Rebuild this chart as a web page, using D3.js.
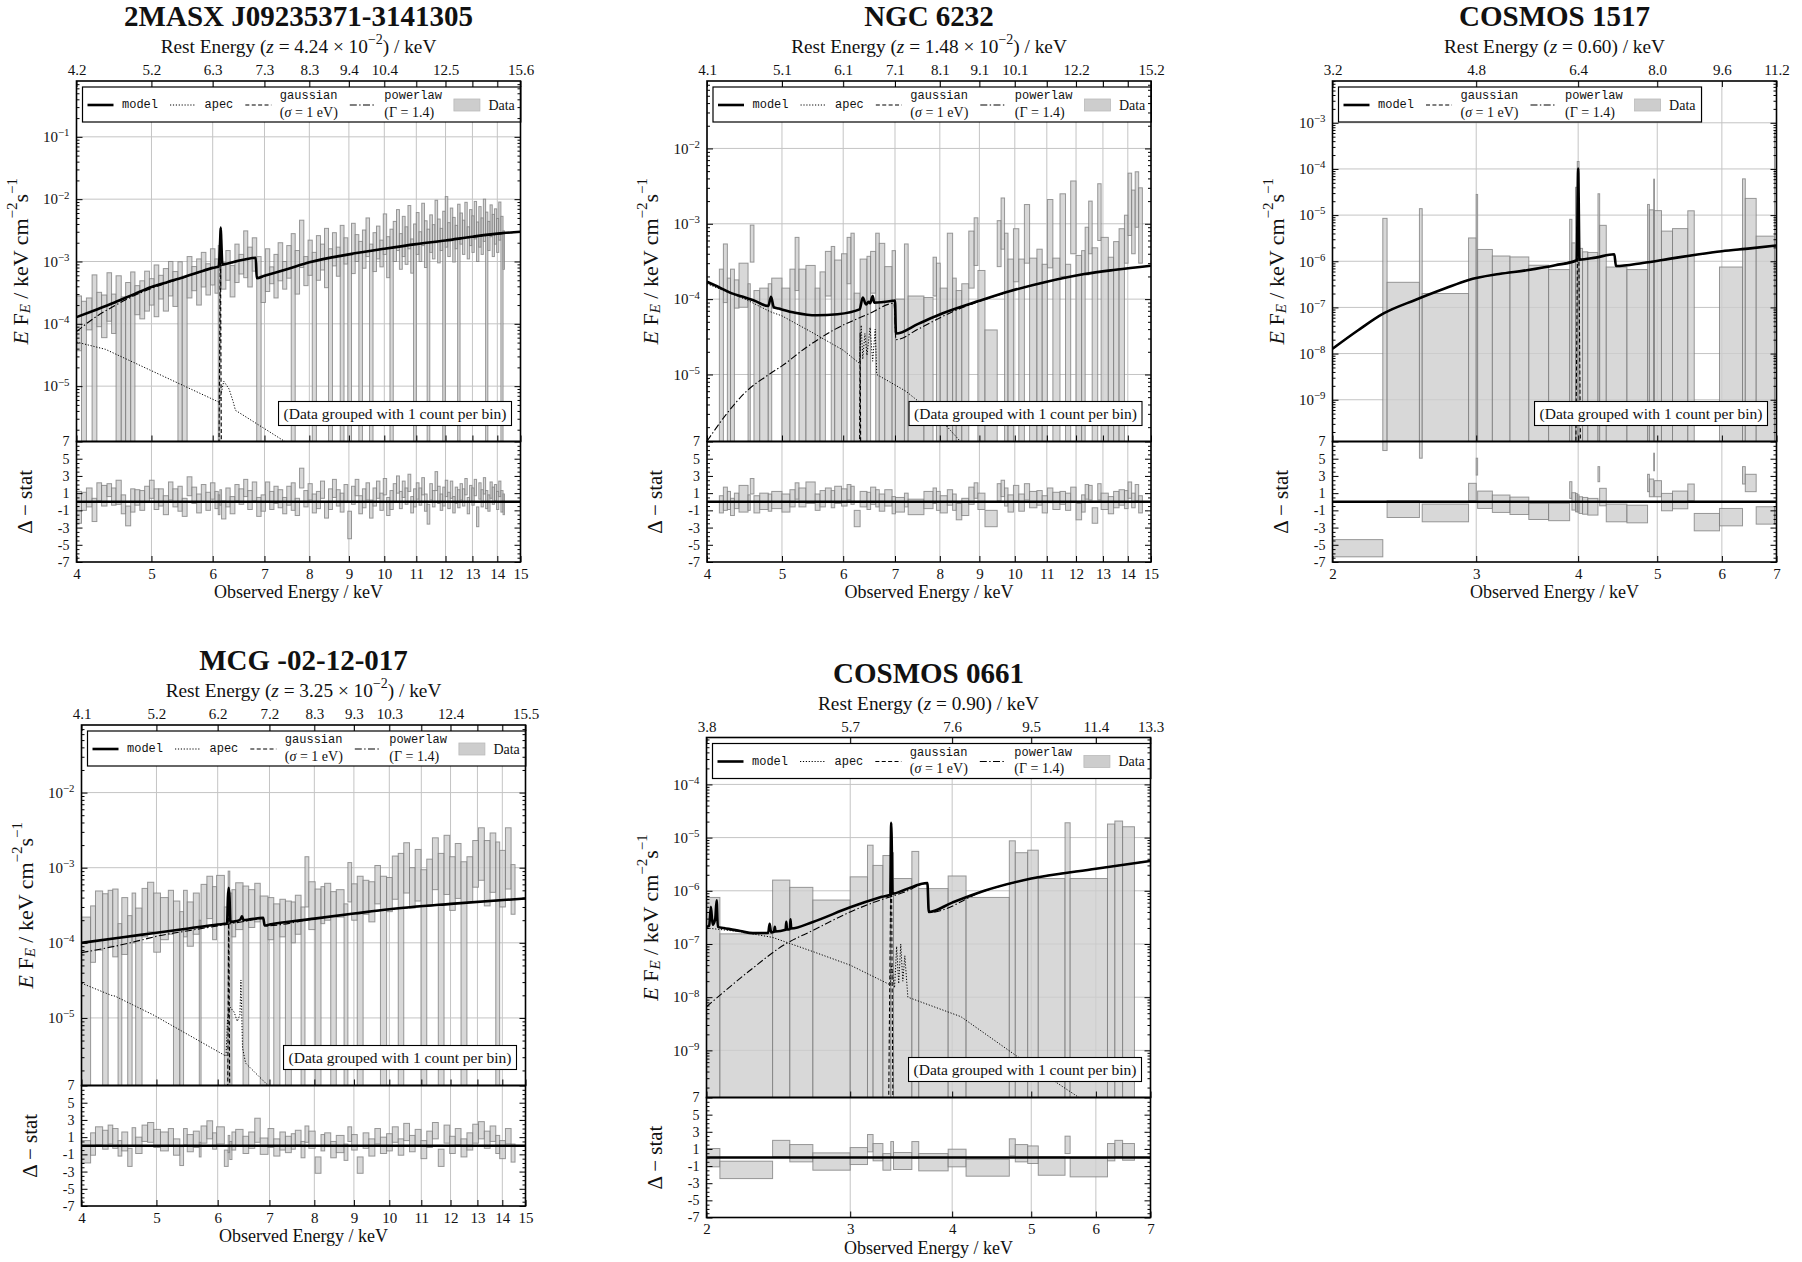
<!DOCTYPE html>
<html>
<head>
<meta charset="utf-8">
<title>Fe K band spectra</title>
<script src="https://cdn.jsdelivr.net/npm/d3@7/dist/d3.min.js"></script>
<style>
  html, body { margin: 0; padding: 0; background: #ffffff; }
  svg { display: block; }
  text { font-family: "Liberation Serif", "DejaVu Serif", serif; fill: #111; }
  .mono { font-family: "Liberation Mono", "DejaVu Sans Mono", monospace; }
</style>
</head>
<body>
<svg id="fig" width="1802" height="1262"></svg>
<script>
// ------------------------------------------------------------------
// Tick positions (observed energy, keV) and rest-frame tick labels
// ------------------------------------------------------------------
const obsTicksHard = [4, 5, 6, 7, 8, 9, 10, 11, 12, 13, 14, 15];
const obsTicksSoft = [2, 3, 4, 5, 6, 7];
const restTicksHard = [4, 5, 6, 7, 8, 9, 10, 12, 15];
const restTicksSoft = [2, 3, 4, 5, 6, 7];
const p1RestLabels = ["4.2", "5.2", "6.3", "7.3", "8.3", "9.4", "10.4", "12.5", "15.6"];
const p2RestLabels = ["4.1", "5.1", "6.1", "7.1", "8.1", "9.1", "10.1", "12.2", "15.2"];
const p3RestLabels = ["3.2", "4.8", "6.4", "8.0", "9.6", "11.2"];
const p4RestLabels = ["4.1", "5.2", "6.2", "7.2", "8.3", "9.3", "10.3", "12.4", "15.5"];
const p5RestLabels = ["3.8", "5.7", "7.6", "9.5", "11.4", "13.3"];
const residTicks = [-7, -5, -3, -1, 1, 3, 5, 7];

// ------------------------------------------------------------------
// Binned spectra: [E_lo, E_hi, flux_lo, flux_hi, resid_lo, resid_hi]
// flux in keV cm^-2 s^-1 (E F_E); flux_lo = 0 means the error reaches zero
// ------------------------------------------------------------------
const p1Bins = [
  [4.00,4.06,3.7e-5,2.8e-4,-2.5,1.2],[4.06,4.12,0,2.3e-4,-1.0,1.1],[4.12,4.19,8e-5,2.6e-4,-0.6,1.6],
  [4.19,4.25,0,6.1e-4,-2.3,0.4],[4.25,4.31,9e-5,3.2e-4,0.1,2.2],[4.31,4.38,6e-5,2.9e-4,-0.5,1.9],
  [4.38,4.44,1.1e-4,6.6e-4,0.6,2.1],[4.44,4.50,7e-5,3.0e-4,-0.4,1.6],[4.50,4.57,0,5.9e-4,-0.3,2.5],
  [4.57,4.63,0,2.7e-4,-1.4,0.8],[4.63,4.70,0,4.6e-4,-2.8,-0.5],[4.70,4.76,0,6.8e-4,-1.2,1.5],
  [4.76,4.83,1.4e-4,4.1e-4,-0.4,1.4],[4.83,4.90,1.2e-4,4.9e-4,-1.0,1.3],[4.90,4.97,1.6e-4,7.0e-4,0.0,1.8],
  [4.97,5.04,2.0e-4,5.3e-4,0.4,2.5],[5.04,5.11,1.3e-4,8.8e-4,-0.9,1.5],[5.11,5.18,2.5e-4,6.0e-4,-0.5,1.5],
  [5.18,5.26,1.6e-4,7.7e-4,-1.5,0.7],[5.26,5.33,2.8e-4,1.0e-3,0.2,2.3],[5.33,5.41,1.9e-4,6.9e-4,-0.6,1.5],
  [5.41,5.48,0,9.9e-4,-1.1,1.8],[5.48,5.56,0,5.8e-4,-1.7,0.4],[5.56,5.64,2.6e-4,1.2e-3,0.7,2.9],
  [5.64,5.72,3.4e-4,8.3e-4,-0.2,1.7],[5.72,5.80,2.0e-4,1.1e-3,-1.3,0.9],[5.80,5.88,3.9e-4,1.4e-3,0.0,2.0],
  [5.88,5.96,2.9e-4,9.2e-4,-1.0,1.1],[5.96,6.04,4.2e-4,1.6e-3,0.3,2.2],[6.04,6.10,3.1e-4,1.1e-3,-0.8,1.2],
  [6.10,6.13,0,1.8e-3,-1.5,0.8],[6.13,6.16,1.1e-3,3.3e-3,-0.4,1.4],[6.16,6.24,3.6e-4,9.5e-4,-2.0,0.1],
  [6.24,6.32,5.0e-4,1.5e-3,-0.6,1.6],[6.32,6.41,2.7e-4,8.6e-4,-1.4,0.6],[6.41,6.49,4.6e-4,1.9e-3,0.1,2.0],
  [6.49,6.58,6.3e-4,1.3e-3,-0.3,1.5],[6.58,6.66,5.5e-4,3.1e-3,0.6,2.6],[6.66,6.75,3.9e-4,1.7e-3,-0.9,1.3],
  [6.75,6.84,7.0e-4,2.4e-3,0.1,2.3],[6.84,6.93,0,1.2e-3,-1.7,0.5],[6.93,7.02,2.2e-4,6.0e-4,-1.1,0.8],
  [7.02,7.11,3.3e-4,1.6e-3,0.0,2.3],[7.11,7.20,4.4e-4,8.2e-4,-0.9,1.2],[7.20,7.29,2.6e-4,1.3e-3,-0.2,1.8],
  [7.29,7.39,4.9e-4,2.0e-3,-0.7,1.4],[7.39,7.48,3.6e-4,1.0e-3,-1.4,0.5],[7.48,7.58,5.4e-4,1.8e-3,-0.4,1.8],
  [7.58,7.67,0,2.8e-3,-1.0,2.2],[7.67,7.77,3.0e-4,1.5e-3,-1.6,0.4],[7.77,7.87,8.0e-4,4.6e-3,1.6,3.9],
  [7.87,7.97,4.1e-4,1.2e-3,-0.6,1.3],[7.97,8.07,6.0e-4,2.2e-3,0.2,2.1],[8.07,8.17,0,1.4e-3,-1.3,0.9],
  [8.17,8.27,5.0e-4,2.6e-3,-0.8,1.2],[8.27,8.37,7.3e-4,1.9e-3,0.4,2.4],[8.37,8.47,3.8e-4,3.4e-3,-1.9,0.0],
  [8.47,8.57,0,1.6e-3,-0.9,1.5],[8.57,8.67,8.5e-4,2.9e-3,0.5,2.6],[8.67,8.77,5.8e-4,1.7e-3,-0.5,1.4],
  [8.77,8.87,0,3.8e-3,-1.2,1.0],[8.87,8.97,9.1e-4,2.4e-3,0.0,2.0],[8.97,9.07,0,1.3e-3,-4.3,-1.1],
  [9.07,9.17,6.4e-4,4.1e-3,-0.3,1.8],[9.17,9.27,1.0e-3,2.7e-3,0.7,2.6],[9.27,9.37,0,2.1e-3,-1.4,0.7],
  [9.37,9.47,7.8e-4,3.2e-3,-0.7,1.5],[9.47,9.57,1.2e-3,5.0e-3,0.2,2.2],[9.57,9.67,0,1.9e-3,-1.9,0.2],
  [9.67,9.77,6.9e-4,2.9e-3,-0.5,1.6],[9.77,9.87,1.1e-3,3.7e-3,0.4,2.4],[9.87,9.97,8.2e-4,2.2e-3,-1.0,1.0],
  [9.97,10.07,1.3e-3,5.8e-3,0.8,2.7],[10.07,10.17,5.5e-4,2.5e-3,-1.6,0.5],[10.17,10.27,0,3.3e-3,-0.9,1.3],
  [10.27,10.37,1.0e-3,4.4e-3,0.0,2.1],[10.37,10.46,1.5e-3,6.8e-3,1.0,3.0],[10.46,10.55,7.5e-4,2.8e-3,-0.8,1.2],
  [10.55,10.64,1.2e-3,5.3e-3,0.5,2.4],[10.64,10.73,9.0e-4,3.6e-3,-0.3,1.6],[10.73,10.82,1.6e-3,7.9e-3,1.2,3.2],
  [10.82,10.91,6.5e-4,2.3e-3,-1.3,0.6],[10.91,11.00,0,4.0e-3,-0.6,1.5],[11.00,11.09,1.3e-3,6.1e-3,0.3,2.2],
  [11.09,11.18,1.0e-3,3.0e-3,-0.4,1.6],[11.18,11.27,1.8e-3,8.6e-3,0.8,2.8],[11.27,11.36,8.0e-4,4.5e-3,-1.1,0.9],
  [11.36,11.45,0,3.3e-3,-2.6,-0.3],[11.45,11.54,1.4e-3,5.6e-3,0.2,2.1],[11.54,11.63,1.1e-3,3.9e-3,-0.6,1.3],
  [11.63,11.72,2.0e-3,9.6e-3,1.3,3.5],[11.72,11.81,9.5e-4,4.8e-3,-0.2,1.8],[11.81,11.90,1.5e-3,3.4e-3,-1.0,0.9],
  [11.90,11.99,0,6.4e-3,-0.5,1.7],[11.99,12.08,1.7e-3,1.1e-2,0.6,2.5],[12.08,12.17,1.2e-3,4.2e-3,-0.8,1.1],
  [12.17,12.26,2.2e-3,7.2e-3,0.4,2.4],[12.26,12.35,9.8e-4,5.1e-3,-1.3,0.6],[12.35,12.44,1.6e-3,3.8e-3,-0.2,1.7],
  [12.44,12.53,0,8.3e-3,-0.7,1.4],[12.53,12.62,1.9e-3,6.0e-3,0.2,2.1],[12.62,12.71,1.3e-3,4.6e-3,-0.5,1.5],
  [12.71,12.80,2.4e-3,8.9e-3,0.8,2.7],[12.80,12.89,1.1e-3,3.6e-3,-1.4,0.5],[12.89,12.98,1.8e-3,6.8e-3,0.0,1.9],
  [12.98,13.07,1.4e-3,5.4e-3,-0.4,1.6],[13.07,13.16,2.3e-3,9.2e-3,0.7,2.6],[13.16,13.25,1.0e-3,4.3e-3,-2.9,-0.6],
  [13.25,13.34,1.7e-3,7.6e-3,0.3,2.2],[13.34,13.43,1.3e-3,5.0e-3,-0.6,1.4],[13.43,13.52,2.1e-3,1.0e-2,0.9,2.8],
  [13.52,13.61,0,6.2e-3,-0.8,1.3],[13.61,13.70,1.5e-3,4.4e-3,-1.1,0.8],[13.70,13.79,2.5e-3,8.1e-3,0.4,2.3],
  [13.79,13.88,1.2e-3,5.7e-3,-0.3,1.7],[13.88,13.97,1.9e-3,7.0e-3,0.1,2.0],[13.97,14.06,1.4e-3,4.9e-3,-0.9,1.2],
  [14.06,14.15,2.2e-3,9.0e-3,0.6,2.4],[14.15,14.24,0,5.3e-3,-1.2,1.3],[14.24,14.30,7.5e-4,3.1e-3,-1.5,0.9]
];

const p2Bins = [
  [4.15,4.20,0,2.5e-4,-1.3,0.7],[4.20,4.25,9e-5,5.4e-4,-1.0,1.7],[4.25,4.29,0,1.9e-4,-0.9,1.2],
  [4.29,4.34,0,2.5e-4,-1.6,0.4],[4.34,4.40,7.6e-5,1.8e-4,-0.8,1.0],[4.40,4.52,7.8e-5,3.0e-4,-1.2,1.9],
  [4.52,4.55,0,1.6e-4,-1.0,0.8],[4.55,4.60,3.1e-4,9.6e-4,0.9,2.7],[4.60,4.68,0,1.3e-4,-1.3,0.7],
  [4.68,4.80,0,1.4e-4,-0.9,1.0],[4.80,4.85,0,1.6e-4,-1.1,0.9],[4.85,5.00,7.6e-5,1.9e-4,-0.8,1.2],
  [5.00,5.12,0,1.4e-4,-1.2,0.9],[5.12,5.20,0,2.5e-4,-0.6,1.4],[5.20,5.26,1.3e-4,6.6e-4,0.3,2.2],
  [5.26,5.37,0,2.5e-4,-0.6,1.6],[5.37,5.52,0,2.8e-4,-0.2,2.3],[5.52,5.60,0,1.4e-4,-1.0,0.9],
  [5.60,5.69,0,2.3e-4,-0.6,1.3],[5.69,5.79,1.1e-4,4.3e-4,-0.1,1.6],[5.79,5.85,0,5.0e-4,-0.7,1.3],
  [5.85,5.97,0,3.3e-4,-0.2,1.8],[5.97,6.07,0,4.0e-4,-0.5,1.5],[6.07,6.14,1.6e-4,6.6e-4,0.2,2.0],
  [6.14,6.20,0,7.5e-4,-0.3,1.8],[6.20,6.31,0,1.2e-4,-2.9,-1.0],[6.31,6.44,0,3.4e-4,-0.6,1.2],
  [6.44,6.51,0,3.7e-4,-0.9,1.1],[6.51,6.61,1.2e-4,4.3e-4,-0.3,1.7],[6.61,6.68,0,7.5e-4,-0.6,1.4],
  [6.68,6.79,0,5.5e-4,-1.1,0.9],[6.79,6.94,0,2.7e-4,-0.5,1.4],[6.94,7.01,0,4.4e-4,-1.4,0.6],
  [7.01,7.20,0,1.0e-4,-1.2,0.5],[7.20,7.28,0,5.4e-4,-0.6,1.0],[7.28,7.63,0,1.1e-4,-1.5,0.3],
  [7.63,7.84,0,1.05e-4,-0.8,1.2],[7.84,7.92,1.1e-4,3.6e-4,-0.2,1.6],[7.92,8.01,0,3.0e-4,-1.0,1.2],
  [8.01,8.18,0,1.4e-4,-1.3,0.7],[8.18,8.31,0,7.5e-4,-0.4,1.4],[8.31,8.40,0,1.9e-4,-1.0,0.9],
  [8.40,8.54,0,1.3e-4,-2.1,-0.2],[8.54,8.72,0,1.6e-4,-1.6,0.4],[8.72,8.86,1.4e-4,8.0e-4,-0.3,1.7],
  [8.86,8.96,2.8e-4,1.2e-3,0.4,2.2],[8.96,9.15,0,2.4e-4,-0.9,1.0],[9.15,9.49,0,3.9e-5,-2.9,-1.0],
  [9.49,9.60,2.7e-4,1.1e-3,0.1,2.1],[9.60,9.70,4.6e-4,2.2e-3,0.6,2.5],[9.70,9.80,0,7.5e-4,-0.5,1.6],
  [9.80,9.96,0,3.4e-4,-1.2,0.8],[9.96,10.12,1.7e-4,8.6e-4,0.1,1.9],[10.12,10.29,0,3.4e-4,-1.1,0.9],
  [10.29,10.45,3.0e-4,1.8e-3,0.2,2.1],[10.45,10.68,0,3.5e-4,-0.7,1.2],[10.68,10.85,0,4.6e-4,-0.4,1.3],
  [10.85,11.02,0,2.9e-4,-1.3,0.7],[11.02,11.20,2.6e-4,2.1e-3,-0.1,1.6],[11.20,11.44,0,3.5e-4,-0.9,1.1],
  [11.44,11.63,2.0e-4,2.5e-3,-0.3,1.2],[11.63,11.81,0,2.9e-4,-1.0,1.0],[11.81,12.00,4.0e-4,3.7e-3,0.0,1.7],
  [12.00,12.20,0,3.8e-4,-2.1,-0.2],[12.20,12.33,0,4.4e-4,-1.2,0.8],[12.33,12.46,2.1e-4,9.0e-4,0.3,2.0],
  [12.46,12.59,4.0e-4,2.0e-3,0.2,1.9],[12.59,12.80,0,4.8e-4,-2.5,-0.7],[12.80,12.93,6.0e-4,3.4e-3,0.2,2.1],
  [12.93,13.21,0,6.6e-4,-0.9,1.0],[13.21,13.42,0,3.6e-4,-1.4,0.6],[13.42,13.64,0,5.8e-4,-0.7,1.2],
  [13.64,13.86,0,8.6e-4,-0.4,1.4],[13.86,14.01,3.0e-4,1.3e-3,-0.8,1.3],[14.01,14.16,7.0e-4,4.7e-3,0.4,2.3],
  [14.16,14.31,4.0e-4,2.8e-3,-0.7,1.0],[14.31,14.46,9.0e-4,4.9e-3,0.1,2.0],[14.46,14.62,3.0e-4,3.0e-3,-1.3,0.7]
];

const p3Bins = [
  [2.000,2.305,0,0,-6.4,-4.4],[2.305,2.333,0,8.5e-6,5.95,8.0],[2.333,2.556,0,3.5e-7,-1.83,0.12],
  [2.556,2.576,0,1.38e-5,5.06,7.5],[2.576,2.936,0,2.0e-7,-2.33,-0.27],[2.936,3.000,0,3.2e-6,0.12,2.14],
  [3.000,3.012,0,2.8e-5,3.1,5.06],[3.012,3.140,0,1.8e-6,-0.78,1.24],[3.140,3.300,0,1.3e-6,-1.24,0.78],
  [3.300,3.480,0,1.24e-6,-1.48,0.54],[3.480,3.680,0,8.2e-7,-2.06,-0.19],[3.680,3.905,0,6.6e-7,-2.2,-0.19],
  [3.905,3.930,0,8.1e-6,0.39,2.33],[3.930,3.970,0,2.5e-6,-0.97,1.05],[3.970,3.990,0,4.0e-5,-1.17,0.97],
  [3.990,4.010,0,1.45e-4,-1.2,0.8],[4.010,4.050,0,1.9e-6,-1.36,0.58],[4.050,4.110,0,1.6e-6,-1.45,0.5],
  [4.110,4.230,0,1.55e-6,-1.55,0.39],[4.230,4.250,0,2.9e-5,2.33,4.08],[4.250,4.330,0,6.0e-6,-0.47,1.56],
  [4.330,4.590,0,7.5e-7,-2.33,-0.27],[4.590,4.865,0,6.6e-7,-2.45,-0.4],[4.865,4.890,0,1.7e-5,1.17,3.19],
  [4.890,4.950,0,1.3e-5,0.58,2.64],[4.950,4.960,0,6.0e-5,3.6,5.64],[4.960,5.060,0,1.25e-5,0.58,2.45],
  [5.060,5.220,0,4.5e-6,-1.05,0.97],[5.220,5.450,0,5.1e-6,-0.82,1.24],[5.450,5.550,0,1.24e-5,0.12,2.06],
  [5.550,5.960,0,0,-3.38,-1.36],[5.960,6.360,0,7.5e-7,-2.8,-0.78],[6.360,6.410,0,6.1e-5,2.06,4.08],
  [6.410,6.610,0,2.3e-5,1.17,3.19],[6.610,6.960,0,3.5e-6,-2.6,-0.58],[6.960,7.000,0,6.4e-4,-2.6,-0.58]
];

const p4Bins = [
  [4.00,4.11,0,2.2e-4,-2.0,0.6],[4.11,4.17,5.5e-5,3.1e-4,-1.1,1.5],[4.17,4.26,8.0e-5,4.9e-4,0.1,2.2],
  [4.26,4.33,0,4.5e-4,-0.4,1.8],[4.33,4.39,9.0e-5,5.0e-4,0.2,2.4],[4.39,4.46,6.5e-5,5.2e-4,-0.3,2.0],
  [4.46,4.51,0,1.8e-4,-1.2,0.6],[4.51,4.59,7.0e-5,4.0e-4,-0.6,1.6],[4.59,4.65,0,2.3e-4,-2.4,-0.3],
  [4.65,4.70,1.0e-4,4.6e-4,0.0,2.1],[4.70,4.79,0,2.9e-4,-0.9,1.0],[4.79,4.87,1.2e-4,5.3e-4,0.5,2.4],
  [4.87,4.96,1.4e-4,6.4e-4,0.4,2.7],[4.96,5.06,7.5e-5,4.6e-4,-0.2,1.9],[5.06,5.18,1.1e-4,4.0e-4,-0.6,1.6],
  [5.18,5.26,1.3e-4,5.0e-4,0.0,2.0],[5.26,5.36,0,3.6e-4,-1.1,0.8],[5.36,5.42,0,2.6e-4,-2.3,-0.1],
  [5.42,5.48,1.2e-4,5.0e-4,0.1,2.0],[5.48,5.58,9.0e-5,3.5e-4,-0.7,1.3],[5.58,5.68,1.3e-4,4.6e-4,-0.2,1.7],
  [5.68,5.71,0,2.0e-4,-1.3,0.4],[5.71,5.81,1.6e-4,6.0e-4,0.3,2.3],[5.81,5.91,2.1e-4,7.7e-4,0.8,2.9],
  [5.91,5.98,1.1e-4,5.6e-4,-0.4,1.5],[5.98,6.12,1.8e-4,7.9e-4,0.2,2.2],[6.12,6.19,0,3.0e-4,-2.4,-0.5],
  [6.19,6.22,2.6e-4,9.0e-4,-0.8,1.2],[6.22,6.26,0,4.6e-4,-1.6,0.5],[6.26,6.33,1.2e-4,5.1e-4,-0.5,1.6],
  [6.33,6.47,1.5e-4,6.3e-4,0.0,1.9],[6.47,6.58,0,5.7e-4,-0.9,1.1],[6.58,6.70,1.6e-4,5.1e-4,-0.3,1.6],
  [6.70,6.81,1.9e-4,6.2e-4,0.4,3.2],[6.81,6.97,0,4.2e-4,-1.0,0.9],[6.97,7.09,1.1e-4,4.0e-4,-0.2,2.0],
  [7.09,7.22,0,3.3e-4,-1.2,0.8],[7.22,7.34,1.2e-4,3.8e-4,-0.5,1.6],[7.34,7.47,0,3.6e-4,-0.8,1.1],
  [7.47,7.56,1.0e-4,3.5e-4,-0.4,1.4],[7.56,7.69,1.3e-4,4.3e-4,0.1,1.8],[7.69,7.78,0,3.0e-4,-1.4,0.5],
  [7.78,7.87,3.0e-4,1.4e-3,0.4,2.3],[7.87,8.02,1.5e-4,6.5e-4,-0.3,1.7],[8.02,8.16,0,5.2e-4,-3.2,-1.3],
  [8.16,8.25,1.8e-4,5.6e-4,-0.6,1.3],[8.25,8.40,2.0e-4,6.2e-4,-0.1,1.5],[8.40,8.54,0,4.8e-4,-1.4,0.5],
  [8.54,8.74,2.2e-4,5.1e-4,-0.8,1.2],[8.74,8.84,0,3.3e-4,-1.7,0.2],[8.84,8.94,3.5e-4,1.17e-3,0.5,2.2],
  [8.94,9.09,2.0e-4,6.1e-4,-0.5,1.3],[9.09,9.25,0,7.7e-4,-3.2,-1.3],[9.25,9.41,2.4e-4,6.8e-4,-0.3,1.5],
  [9.41,9.58,1.9e-4,6.5e-4,-1.2,0.8],[9.58,9.74,3.3e-4,1.07e-3,0.2,2.0],[9.74,9.92,0,7.7e-4,-0.9,1.0],
  [9.92,10.09,2.6e-4,7.4e-4,-0.6,1.4],[10.09,10.27,3.8e-4,1.43e-3,0.4,2.2],[10.27,10.44,0,1.55e-3,-1.1,0.8],
  [10.44,10.62,4.6e-4,2.15e-3,0.6,2.6],[10.62,10.80,2.9e-4,1.0e-3,-0.7,1.2],[10.80,10.99,3.6e-4,1.75e-3,0.0,1.9],
  [10.99,11.18,0,9.4e-4,-1.5,0.6],[11.18,11.37,3.2e-4,1.3e-3,-0.2,1.7],[11.37,11.57,5.1e-4,2.5e-3,0.8,2.7],
  [11.57,11.77,0,1.55e-3,-2.4,-0.4],[11.77,11.97,4.4e-4,2.7e-3,0.3,2.4],[11.97,12.17,2.7e-4,1.4e-3,-0.9,1.1],
  [12.17,12.38,3.9e-4,2.1e-3,0.1,2.0],[12.38,12.60,0,1.2e-3,-1.3,0.8],[12.60,12.82,3.5e-4,1.4e-3,-0.5,1.5],
  [12.82,13.04,5.5e-4,2.3e-3,0.3,2.5],[13.04,13.27,6.8e-4,3.4e-3,0.8,2.8],[13.27,13.50,3.1e-4,2.3e-3,-0.3,1.7],
  [13.50,13.73,4.7e-4,2.9e-3,0.5,2.3],[13.73,13.89,0,2.2e-3,-0.9,1.2],[13.89,14.13,3.0e-4,1.7e-3,-1.5,0.6],
  [14.13,14.37,5.2e-4,3.4e-3,0.2,2.0],[14.37,14.54,2.4e-4,1.1e-3,-1.9,0.2]
];

const p5Bins = [
  [2.000,2.077,0,7.5e-7,-1.09,1.05],[2.077,2.410,0,1.55e-7,-2.46,-0.43],[2.410,2.530,0,1.59e-6,0.07,2.0],
  [2.530,2.700,0,1.16e-6,-0.51,1.51],[2.700,3.000,0,6.7e-7,-1.48,0.54],[3.000,3.150,0,1.83e-6,-0.82,1.16],
  [3.150,3.200,0,7.2e-6,0.66,2.68],[3.200,3.290,0,3.0e-6,-0.39,1.63],[3.290,3.364,0,4.6e-6,-1.48,0.46],
  [3.364,3.390,0,5.2e-6,0.07,1.86],[3.390,3.570,0,1.7e-6,-1.4,0.58],[3.570,3.640,0,5.5e-6,-0.12,1.86],
  [3.640,3.955,0,1.1e-6,-1.56,0.46],[3.955,4.160,0,1.9e-6,-1.09,0.97],[4.160,4.700,0,7.5e-7,-2.18,-0.2],
  [4.700,4.780,0,8.7e-6,0.19,2.18],[4.780,4.950,0,5.2e-6,-0.51,1.51],[4.950,5.100,0,5.8e-6,-0.7,1.35],
  [5.100,5.500,0,1.7e-6,-2.07,0.07],[5.500,5.580,0,1.9e-5,0.46,2.49],[5.580,6.200,0,1.7e-6,-2.26,-0.12],
  [6.200,6.330,0,1.8e-5,-0.39,1.63],[6.330,6.470,0,2.05e-5,0.07,2.0],[6.470,6.690,0,1.6e-5,-0.32,1.63]
];

// ------------------------------------------------------------------
// Model components: [observed energy (keV), E F_E]
// ------------------------------------------------------------------
const p1Model = [[4.0,1.28e-4],[4.25,1.7e-4],[4.48,2.2e-4],[4.75,3.0e-4],[5.0,3.9e-4],[5.25,4.7e-4],[5.5,5.6e-4],
  [5.75,6.7e-4],[6.0,7.9e-4],[6.11,8.3e-4],[6.135,2.2e-3],[6.145,3.5e-3],[6.155,2.2e-3],[6.175,9.0e-4],[6.4,9.9e-4],
  [6.6,1.08e-3],[6.82,1.15e-3],[6.84,5.4e-4],[7.0,5.9e-4],[7.5,7.6e-4],[8.0,9.7e-4],[9.0,1.3e-3],[10.0,1.6e-3],
  [11.0,1.9e-3],[12.0,2.17e-3],[13.0,2.5e-3],[14.0,2.8e-3],[15.0,3.0e-3]];
const p1Apec = [[4.0,5.1e-5],[4.36,3.9e-5],[6.12,5.5e-6],[6.2,1.2e-5],[6.3,9e-6],[6.38,5.5e-6],[6.42,4.1e-6],
  [7.44,1.29e-6],[8.0,8e-7]];
const p1Gauss = [[6.09,1e-9],[6.14,2.7e-3],[6.17,1e-9]];
const p1Pow = [[4.0,7.5e-5],[4.2,1.2e-4],[4.48,1.95e-4],[4.8,3.0e-4],[5.0,3.7e-4],[5.5,5.5e-4],[6.0,7.8e-4],
  [6.5,1.02e-3],[6.82,1.14e-3],[6.84,5.35e-4],[7.0,5.85e-4],[8.0,9.7e-4],[10.0,1.6e-3],[12.0,2.17e-3],[15.0,3.0e-3]];

const p2Model = [[4.0,1.7e-4],[4.15,1.43e-4],[4.3,1.2e-4],[4.48,1.05e-4],[4.6,9.6e-5],[4.8,8.1e-5],[4.84,1.07e-4],
  [4.88,7.8e-5],[4.95,7.5e-5],[5.2,6.6e-5],[5.54,6.1e-5],[5.9,6.3e-5],[6.3,7.3e-5],[6.36,1.05e-4],[6.42,8.5e-5],
  [6.47,9.2e-5],[6.5,8.8e-5],[6.55,1.1e-4],[6.58,9.0e-5],[6.95,9.5e-5],[7.0,9.6e-5],[7.02,3.5e-5],[7.5,4.7e-5],
  [8.04,6.4e-5],[9.0,9.5e-5],[9.87,1.28e-4],[11.0,1.7e-4],[12.3,2.15e-4],[13.5,2.45e-4],[15.0,2.77e-4]];
const p2Apec = [[4.0,1.6e-4],[4.2,1.3e-4],[4.5,9.8e-5],[4.83,6.8e-5],[5.0,6.0e-5],[5.5,3.5e-5],[6.0,2.1e-5],
  [6.3,1.4e-5],[6.33,4.5e-5],[6.36,1.6e-5],[6.4,3.5e-5],[6.44,1.8e-5],[6.5,4.2e-5],[6.55,1.5e-5],[6.6,4.0e-5],
  [6.63,1.0e-5],[7.23,6e-6],[8.0,2.6e-6],[8.5,1.3e-6],[9.0,7e-7]];
const p2Gauss = [[6.28,1e-9],[6.31,3.6e-5],[6.34,1e-9]];
const p2Pow = [[4.0,1.3e-6],[4.24,3e-6],[4.5,6e-6],[4.81,1.0e-5],[5.0,1.3e-5],[5.38,2.3e-5],[5.86,4.0e-5],
  [6.48,6.4e-5],[6.98,8.8e-5],[7.02,2.9e-5],[7.5,4.0e-5],[8.04,5.8e-5],[8.5,7.5e-5],[9.0,9.3e-5],[9.87,1.27e-4],
  [12.3,2.14e-4],[15.0,2.76e-4]];

const p3Model = [[2.0,1.27e-8],[2.15,3.2e-8],[2.31,7.4e-8],[2.53,1.47e-7],[2.75,2.6e-7],[2.93,3.9e-7],[3.2,5.3e-7],
  [3.46,6.4e-7],[3.75,8.2e-7],[3.985,1.05e-6],[3.995,3e-5],[4.0,1.02e-4],[4.005,3e-5],[4.015,1.08e-6],[4.2,1.2e-6],
  [4.43,1.42e-6],[4.45,7.9e-7],[4.8,9.2e-7],[5.19,1.14e-6],[5.6,1.4e-6],[6.0,1.65e-6],[6.5,1.9e-6],[7.0,2.2e-6]];
const p3Gauss = [[3.97,1e-11],[4.0,1.0e-4],[4.03,1e-11]];
const p3Pow = [[2.0,1.27e-8],[2.15,3.2e-8],[2.31,7.4e-8],[2.53,1.47e-7],[2.75,2.6e-7],[2.93,3.9e-7],[3.2,5.3e-7],
  [3.46,6.4e-7],[3.75,8.2e-7],[4.0,1.06e-6],[4.2,1.2e-6],[4.43,1.42e-6],[4.45,7.9e-7],[4.8,9.2e-7],[5.19,1.14e-6],
  [5.6,1.4e-6],[6.0,1.65e-6],[6.5,1.9e-6],[7.0,2.2e-6]];

const p4Model = [[4.0,1.0e-4],[4.5,1.18e-4],[5.0,1.36e-4],[5.5,1.55e-4],[6.0,1.75e-4],[6.17,1.8e-4],[6.185,4e-4],
  [6.2,5.4e-4],[6.215,4e-4],[6.23,1.9e-4],[6.35,1.95e-4],[6.42,2.05e-4],[6.45,2.26e-4],[6.48,2.0e-4],[6.6,2.05e-4],
  [6.87,2.15e-4],[6.9,1.7e-4],[7.0,1.75e-4],[8.0,2.1e-4],[9.0,2.45e-4],[10.0,2.8e-4],[12.0,3.3e-4],[15.0,3.9e-4]];
const p4Apec = [[4.0,2.9e-5],[4.37,2.0e-5],[4.42,1.95e-5],[4.95,1.1e-5],[6.15,3.1e-6],[6.18,1.0e-5],[6.22,1.4e-5],
  [6.3,1.2e-5],[6.36,9e-6],[6.41,1.1e-5],[6.43,3.2e-5],[6.46,4e-6],[6.52,2.5e-6],[6.97,1.26e-6],[7.3,8e-7]];
const p4Gauss = [[6.16,1e-9],[6.2,3.6e-4],[6.24,1e-9]];
const p4Pow = [[4.0,7.4e-5],[4.42,9.0e-5],[4.8,1.1e-4],[5.0,1.22e-4],[5.5,1.45e-4],[6.0,1.68e-4],[6.5,1.93e-4],
  [6.87,2.1e-4],[6.9,1.68e-4],[8.0,2.08e-4],[10.0,2.78e-4],[12.0,3.28e-4],[15.0,3.88e-4]];

const p5Model = [[2.0,2.1e-7],[2.015,2.2e-7],[2.025,5e-7],[2.035,2.3e-7],[2.05,3e-7],[2.058,6.6e-7],[2.065,2.1e-7],
  [2.1,2.0e-7],[2.2,1.75e-7],[2.28,1.6e-7],[2.38,1.62e-7],[2.39,2.4e-7],[2.4,1.65e-7],[2.42,1.7e-7],[2.425,2.1e-7],
  [2.43,1.72e-7],[2.5,1.85e-7],[2.505,2.6e-7],[2.51,1.87e-7],[2.53,1.9e-7],[2.535,2.9e-7],[2.54,1.95e-7],
  [2.7,2.6e-7],[3.0,4.9e-7],[3.28,7.7e-7],[3.36,8.6e-7],[3.365,1e-5],[3.368,1.9e-5],[3.372,1e-5],[3.38,8.8e-7],
  [3.5,1.05e-6],[3.73,1.4e-6],[3.745,4.0e-7],[4.0,6.0e-7],[4.38,1.0e-6],[5.0,1.7e-6],[6.0,2.6e-6],[7.0,3.65e-6]];
const p5Apec = [[2.0,2.0e-7],[2.2,1.7e-7],[2.41,1.33e-7],[2.7,7.2e-8],[3.0,4.0e-8],[3.36,1.7e-8],[3.37,4e-8],
  [3.4,1.5e-8],[3.42,9e-8],[3.44,1.8e-8],[3.46,1.0e-7],[3.48,2e-8],[3.5,6e-8],[3.53,1.0e-8],[4.1,4.3e-9],
  [4.8,7.8e-10],[5.72,1.3e-10],[6.5,3e-11]];
const p5Gauss = [[3.335,1e-12],[3.368,1.8e-5],[3.39,1e-12]];
const p5Pow = [[2.0,6.6e-9],[2.25,3.0e-8],[2.5,1.0e-7],[2.7,1.8e-7],[3.0,4.0e-7],[3.2,6.0e-7],[3.5,9.5e-7],
  [3.73,1.38e-6],[3.745,3.9e-7],[4.38,9.9e-7],[5.0,1.7e-6],[6.0,2.6e-6],[7.0,3.65e-6]];

// ------------------------------------------------------------------
// Panel layout
// ------------------------------------------------------------------
const PW = 444;
const panels = [
  { title: "2MASX J09235371-3141305", z: ["4.24 × 10", "−2"], left: 76.5, top: 81, mainH: 360.5, resH: 120.5,
    xDomain: [4, 15], xTicks: obsTicksHard, restTicks: restTicksHard, restLabels: p1RestLabels,
    yDomain: [1.294e-6, 0.787], yTicks: [1e-5, 1e-4, 1e-3, 1e-2, 1e-1],
    bins: p1Bins, model: p1Model, apec: p1Apec, gauss: p1Gauss, pow: p1Pow },
  { title: "NGC 6232", z: ["1.48 × 10", "−2"], left: 707, top: 81, mainH: 360.5, resH: 120.5,
    xDomain: [4, 15], xTicks: obsTicksHard, restTicks: restTicksHard, restLabels: p2RestLabels,
    yDomain: [1.29e-6, 7.85e-2], yTicks: [1e-5, 1e-4, 1e-3, 1e-2],
    bins: p2Bins, model: p2Model, apec: p2Apec, gauss: p2Gauss, pow: p2Pow },
  { title: "COSMOS 1517", z: ["0.60", null], left: 1332.5, top: 81, mainH: 360.5, resH: 120.5,
    xDomain: [2, 7], xTicks: obsTicksSoft, restTicks: restTicksSoft, restLabels: p3RestLabels,
    yDomain: [1.245e-10, 8.04e-3], yTicks: [1e-9, 1e-8, 1e-7, 1e-6, 1e-5, 1e-4, 1e-3],
    bins: p3Bins, model: p3Model, apec: null, gauss: p3Gauss, pow: p3Pow },
  { title: "MCG -02-12-017", z: ["3.25 × 10", "−2"], left: 81.5, top: 725, mainH: 360.5, resH: 120.5,
    xDomain: [4, 15], xTicks: obsTicksHard, restTicks: restTicksHard, restLabels: p4RestLabels,
    yDomain: [1.26e-6, 7.94e-2], yTicks: [1e-5, 1e-4, 1e-3, 1e-2],
    bins: p4Bins, model: p4Model, apec: p4Apec, gauss: p4Gauss, pow: p4Pow },
  { title: "COSMOS 0661", z: ["0.90", null], left: 706.5, top: 737.5, mainH: 360, resH: 120,
    xDomain: [2, 7], xTicks: obsTicksSoft, restTicks: restTicksSoft, restLabels: p5RestLabels,
    yDomain: [1.30e-10, 7.62e-4], yTicks: [1e-9, 1e-8, 1e-7, 1e-6, 1e-5, 1e-4],
    bins: p5Bins, model: p5Model, apec: p5Apec, gauss: p5Gauss, pow: p5Pow }
];

const STYLE = {
  barFill: "#cdcdcd", barStroke: "#7a7a7a", grid: "#c4c4c4",
  apecDash: "1.2,1.7", gaussDash: "4,2.4", powDash: "7,2.4,1.4,2.4"
};

const svg = d3.select("#fig");
const defs = svg.append("defs");

function styleAxis(sel, size) {
  sel.attr("font-family", null).attr("font-size", size);
  sel.select(".domain").remove();
  sel.selectAll(".tick line").attr("stroke", "#000").attr("stroke-width", 1);
  sel.selectAll(".tick text").attr("fill", "#111");
}

function logMinors(domain) {
  const out = [];
  const lo = Math.floor(Math.log10(domain[0])), hi = Math.ceil(Math.log10(domain[1]));
  for (let e = lo; e <= hi; e++) {
    for (let k = 2; k <= 9; k++) {
      const v = k * Math.pow(10, e);
      if (v > domain[0] && v < domain[1]) out.push(v);
    }
  }
  return out;
}

function drawLegend(g, p, L, T) {
  const items = [{ kind: "model", lines: ["model"] }];
  if (p.apec) items.push({ kind: "apec", lines: ["apec"] });
  items.push({ kind: "gauss", lines: ["gaussian", "sigma"] });
  items.push({ kind: "pow", lines: ["powerlaw", "gamma"] });
  items.push({ kind: "data", lines: ["Data"] });

  const gap = 12, pad = 8.5;
  const lg = g.append("g");
  const box = lg.append("rect").attr("x", L + 6).attr("y", T + 6).attr("height", 35)
    .attr("fill", "#fff").attr("stroke", "#000").attr("stroke-width", 1.2);
  const cy = T + 24;
  let cx = L + 11;
  items.forEach(it => {
    const h0 = cx, h1 = cx + 26;
    if (it.kind === "data") {
      lg.append("rect").attr("x", h0).attr("y", cy - 6).attr("width", 26).attr("height", 12)
        .attr("fill", STYLE.barFill).attr("stroke", "#bbb").attr("stroke-width", 0.8);
    } else {
      const ln = lg.append("line").attr("x1", h0).attr("x2", h1).attr("y1", cy).attr("y2", cy)
        .attr("stroke", "#000");
      if (it.kind === "model") ln.attr("stroke-width", 2.6);
      if (it.kind === "apec") ln.attr("stroke-width", 1).attr("stroke-dasharray", STYLE.apecDash);
      if (it.kind === "gauss") ln.attr("stroke-width", 1.2).attr("stroke-dasharray", STYLE.gaussDash);
      if (it.kind === "pow") ln.attr("stroke-width", 1.2).attr("stroke-dasharray", STYLE.powDash);
    }
    const tx = h1 + pad;
    let w = 0;
    if (it.lines.length === 1) {
      const t = lg.append("text").attr("x", tx).attr("y", cy).attr("dominant-baseline", "central");
      if (it.kind === "data") t.attr("font-size", 14).text(it.lines[0]);
      else t.attr("class", "mono").attr("font-size", 12).text(it.lines[0]);
      w = t.node().getComputedTextLength();
    } else {
      const t1 = lg.append("text").attr("class", "mono").attr("font-size", 12)
        .attr("x", tx).attr("y", cy - 9).attr("dominant-baseline", "central").text(it.lines[0]);
      const t2 = lg.append("text").attr("font-size", 14)
        .attr("x", tx).attr("y", cy + 6.5).attr("dominant-baseline", "central");
      if (it.lines[1] === "sigma") {
        t2.append("tspan").text("(");
        t2.append("tspan").attr("font-style", "italic").text("σ");
        t2.append("tspan").text(" = 1 eV)");
      } else {
        t2.append("tspan").text("(Γ = 1.4)");
      }
      w = Math.max(t1.node().getComputedTextLength(), t2.node().getComputedTextLength());
    }
    cx = tx + w + gap;
  });
  box.attr("width", cx - gap + 6 - (L + 6));
}

function drawPanel(p, idx) {
  const L = p.left, T = p.top, R = L + PW;
  const MB = T + p.mainH, RB = MB + p.resH;
  const x = d3.scaleLog().domain(p.xDomain).range([L, R]);
  const y = d3.scaleLog().domain(p.yDomain).range([MB, T]);
  const r = d3.scaleLinear().domain([-7, 7]).range([RB, MB]);
  const g = svg.append("g");

  defs.append("clipPath").attr("id", "cm" + idx).append("rect")
    .attr("x", L).attr("y", T).attr("width", PW).attr("height", p.mainH);
  defs.append("clipPath").attr("id", "cr" + idx).append("rect")
    .attr("x", L).attr("y", MB).attr("width", PW).attr("height", p.resH);

  // grid
  const grid = g.append("g").attr("stroke", STYLE.grid).attr("stroke-width", 1);
  grid.selectAll("line.gv").data(p.xTicks).join("line").attr("class", "gv")
    .attr("x1", d => x(d)).attr("x2", d => x(d)).attr("y1", T).attr("y2", RB);
  grid.selectAll("line.gh").data(p.yTicks).join("line").attr("class", "gh")
    .attr("x1", L).attr("x2", R).attr("y1", d => y(d)).attr("y2", d => y(d));

  // spectrum bars
  const mg = g.append("g").attr("clip-path", `url(#cm${idx})`);
  mg.append("g").selectAll("rect").data(p.bins.filter(b => b[3] > 0)).join("rect")
    .attr("x", b => x(b[0])).attr("width", b => Math.max(0.8, x(b[1]) - x(b[0])))
    .attr("y", b => y(b[3]))
    .attr("height", b => (b[2] > 0 ? y(b[2]) : MB + 4) - y(b[3]))
    .attr("fill", STYLE.barFill).attr("fill-opacity", 0.78)
    .attr("stroke", STYLE.barStroke).attr("stroke-opacity", 0.75).attr("stroke-width", 1);

  // model curves
  const smooth = d3.line().x(d => x(d[0])).y(d => y(d[1])).curve(d3.curveMonotoneX);
  const sharp = d3.line().x(d => x(d[0])).y(d => y(d[1]));
  if (p.apec) mg.append("path").attr("d", sharp(p.apec)).attr("fill", "none")
    .attr("stroke", "#000").attr("stroke-width", 1).attr("stroke-dasharray", STYLE.apecDash);
  mg.append("path").attr("d", sharp(p.gauss)).attr("fill", "none")
    .attr("stroke", "#000").attr("stroke-width", 1.1).attr("stroke-dasharray", STYLE.gaussDash);
  mg.append("path").attr("d", smooth(p.pow)).attr("fill", "none")
    .attr("stroke", "#000").attr("stroke-width", 1.1).attr("stroke-dasharray", STYLE.powDash);
  mg.append("path").attr("d", smooth(p.model)).attr("fill", "none")
    .attr("stroke", "#000").attr("stroke-width", 2.6).attr("stroke-linejoin", "round");

  // residuals
  const rg = g.append("g").attr("clip-path", `url(#cr${idx})`);
  rg.append("g").selectAll("rect").data(p.bins).join("rect")
    .attr("x", b => x(b[0])).attr("width", b => Math.max(0.8, x(b[1]) - x(b[0])))
    .attr("y", b => r(b[5])).attr("height", b => r(b[4]) - r(b[5]))
    .attr("fill", STYLE.barFill).attr("fill-opacity", 0.78)
    .attr("stroke", STYLE.barStroke).attr("stroke-opacity", 0.75).attr("stroke-width", 1);
  rg.append("line").attr("x1", L).attr("x2", R).attr("y1", r(0)).attr("y2", r(0))
    .attr("stroke", "#000").attr("stroke-width", 2.6);

  // grouping note
  const note = g.append("g");
  const nr = note.append("rect").attr("fill", "#fff").attr("stroke", "#000").attr("stroke-width", 1.1);
  const nt = note.append("text").attr("font-size", 15.5).attr("dominant-baseline", "central")
    .text("(Data grouped with 1 count per bin)");
  const nw = nt.node().getComputedTextLength();
  const bw = nw + 10, bh = 24, bx = R - 9 - bw, by = MB - 16 - bh;
  nr.attr("x", bx).attr("y", by).attr("width", bw).attr("height", bh);
  nt.attr("x", bx + 5).attr("y", by + bh / 2);

  drawLegend(g, p, L, T);

  // frames
  g.append("rect").attr("x", L).attr("y", T).attr("width", PW).attr("height", p.mainH)
    .attr("fill", "none").attr("stroke", "#000").attr("stroke-width", 1.6);
  g.append("rect").attr("x", L).attr("y", MB).attr("width", PW).attr("height", p.resH)
    .attr("fill", "none").attr("stroke", "#000").attr("stroke-width", 1.6);

  // y axes (main)
  const yl = g.append("g").attr("transform", `translate(${L},0)`)
    .call(d3.axisLeft(y).tickValues(p.yTicks).tickSizeInner(-6).tickSizeOuter(0).tickPadding(7).tickFormat(() => ""));
  styleAxis(yl, 15);
  yl.selectAll(".tick text").each(function (d) {
    const t = d3.select(this);
    const e = Math.round(Math.log10(d));
    t.append("tspan").text("10");
    t.append("tspan").attr("dy", "-0.55em").attr("font-size", "0.72em").text("−" + Math.abs(e));
  });
  const minors = logMinors(p.yDomain);
  styleAxis(g.append("g").attr("transform", `translate(${L},0)`)
    .call(d3.axisLeft(y).tickValues(minors).tickSizeInner(-3).tickSizeOuter(0).tickFormat(() => "")), 15);
  styleAxis(g.append("g").attr("transform", `translate(${R},0)`)
    .call(d3.axisRight(y).tickValues(p.yTicks).tickSizeInner(-6).tickSizeOuter(0).tickFormat(() => "")), 15);
  styleAxis(g.append("g").attr("transform", `translate(${R},0)`)
    .call(d3.axisRight(y).tickValues(minors).tickSizeInner(-3).tickSizeOuter(0).tickFormat(() => "")), 15);

  // y axes (residual)
  const resMinor = d3.range(-6.5, 7, 0.5).filter(v => !residTicks.includes(v));
  styleAxis(g.append("g").attr("transform", `translate(${L},0)`)
    .call(d3.axisLeft(r).tickValues(residTicks).tickSizeInner(-6).tickSizeOuter(0).tickPadding(7)
      .tickFormat(d => String(d))), 14);
  styleAxis(g.append("g").attr("transform", `translate(${L},0)`)
    .call(d3.axisLeft(r).tickValues(resMinor).tickSizeInner(-3).tickSizeOuter(0).tickFormat(() => "")), 14);
  styleAxis(g.append("g").attr("transform", `translate(${R},0)`)
    .call(d3.axisRight(r).tickValues(residTicks).tickSizeInner(-6).tickSizeOuter(0).tickFormat(() => "")), 14);
  styleAxis(g.append("g").attr("transform", `translate(${R},0)`)
    .call(d3.axisRight(r).tickValues(resMinor).tickSizeInner(-3).tickSizeOuter(0).tickFormat(() => "")), 14);

  // x axes
  const restMap = new Map(p.restTicks.map((v, i) => [v, p.restLabels[i]]));
  styleAxis(g.append("g").attr("transform", `translate(0,${T})`)
    .call(d3.axisTop(x).tickValues(p.xTicks).tickSizeInner(-6).tickSizeOuter(0).tickPadding(6)
      .tickFormat(d => restMap.get(d) || "")), 15);
  styleAxis(g.append("g").attr("transform", `translate(0,${MB})`)
    .call(d3.axisBottom(x).tickValues(p.xTicks).tickSizeInner(-6).tickSizeOuter(0).tickFormat(() => "")), 15);
  styleAxis(g.append("g").attr("transform", `translate(0,${RB})`)
    .call(d3.axisBottom(x).tickValues(p.xTicks).tickSizeInner(-6).tickSizeOuter(0).tickPadding(6)
      .tickFormat(d => String(d))), 15);

  // labels
  const cxm = L + PW / 2;
  g.append("text").attr("x", cxm).attr("y", T - 65).attr("text-anchor", "middle")
    .attr("dominant-baseline", "central").attr("font-size", 29).attr("font-weight", "bold").text(p.title);

  const rl = g.append("text").attr("x", cxm).attr("y", T - 35).attr("text-anchor", "middle")
    .attr("dominant-baseline", "central").attr("font-size", 19.3);
  rl.append("tspan").text("Rest Energy (");
  rl.append("tspan").attr("font-style", "italic").text("z");
  rl.append("tspan").text(" = " + p.z[0]);
  if (p.z[1]) {
    rl.append("tspan").attr("dy", -7).attr("font-size", 14).text(p.z[1]);
    rl.append("tspan").attr("dy", 7).text(") / keV");
  } else {
    rl.append("tspan").text(") / keV");
  }

  g.append("text").attr("x", cxm).attr("y", RB + 30).attr("text-anchor", "middle")
    .attr("dominant-baseline", "central").attr("font-size", 18).text("Observed Energy / keV");

  const ylab = g.append("text")
    .attr("transform", `translate(${L - 57},${T + p.mainH / 2}) rotate(-90)`)
    .attr("text-anchor", "middle").attr("dominant-baseline", "central").attr("font-size", 22);
  ylab.append("tspan").attr("font-style", "italic").text("E");
  ylab.append("tspan").text(" F");
  ylab.append("tspan").attr("font-style", "italic").attr("font-size", 15).attr("dy", 5).text("E");
  ylab.append("tspan").attr("dy", -5).text(" / keV cm");
  ylab.append("tspan").attr("font-size", 15).attr("dy", -8).text("−2");
  ylab.append("tspan").attr("dy", 8).text("s");
  ylab.append("tspan").attr("font-size", 15).attr("dy", -8).text("−1");

  g.append("text")
    .attr("transform", `translate(${L - 52},${MB + p.resH / 2}) rotate(-90)`)
    .attr("text-anchor", "middle").attr("dominant-baseline", "central").attr("font-size", 21)
    .text("Δ − stat");
}

panels.forEach(drawPanel);
</script>
</body>
</html>
